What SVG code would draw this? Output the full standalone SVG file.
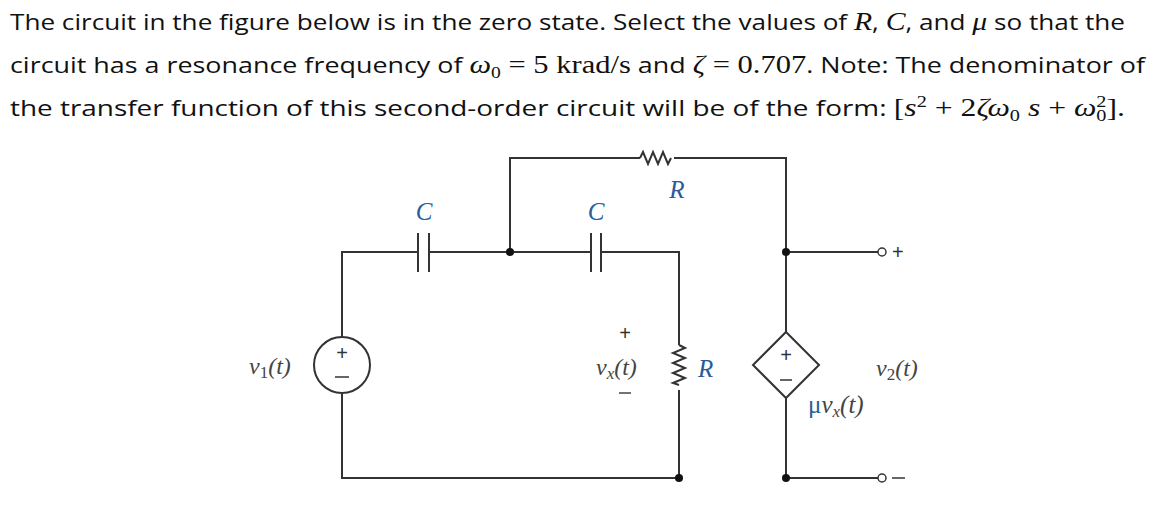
<svg xmlns="http://www.w3.org/2000/svg" width="1166" height="530" viewBox="0 0 1166 530">
<style>
.t{font-family:"Open Sans","Liberation Sans",sans-serif;font-size:22px;fill:#111}
.m{font-family:"Liberation Serif",serif;font-style:italic;font-size:25px}
.mr{font-family:"Liberation Serif",serif;font-size:25px}
.s{font-family:"Liberation Serif",serif;font-size:16px}
.w{stroke:#333;stroke-width:2;fill:none}
.lb{font-family:"Liberation Serif",serif;font-style:italic;font-size:25px;fill:#2a5c9a}
.lk{font-family:"Liberation Serif",serif;font-style:italic;font-size:24px;fill:#444}
.pm{font-family:"Liberation Sans",sans-serif;font-size:20px;fill:#333}
</style>
<rect width="1166" height="530" fill="#fff"/>
<g id="text">
<text class="t" x="10" y="30" textLength="1115" lengthAdjust="spacingAndGlyphs">The circuit in the figure below is in the zero state. Select the values of <tspan class="m">R</tspan>, <tspan class="m">C</tspan>, and <tspan class="m">μ</tspan> so that the</text>
<text class="t" x="10" y="73" textLength="1135" lengthAdjust="spacingAndGlyphs">circuit has a resonance frequency of <tspan class="m">ω</tspan><tspan class="s" dy="5">0</tspan><tspan dy="-5" class="mr"> = 5 krad/s</tspan> and <tspan class="m">ζ</tspan><tspan class="mr"> = 0.707</tspan>. Note: The denominator of</text>
<text class="t" x="10" y="116" textLength="1115" lengthAdjust="spacingAndGlyphs">the transfer function of this second-order circuit will be of the form: <tspan class="mr">[</tspan><tspan class="m">s</tspan><tspan class="s" dy="-9">2</tspan><tspan class="mr" dy="9">  + 2</tspan><tspan class="m">ζω</tspan><tspan class="s" dy="5">0</tspan><tspan class="m" dy="-5"> s</tspan><tspan class="mr"> + </tspan><tspan class="m">ω</tspan><tspan class="s" dy="-9">2</tspan><tspan class="s" dx="-8" dy="14">0</tspan><tspan class="mr" dy="-5">].</tspan></text>
</g>
<g id="connectors">
<path class="w" d="M342,337 V252 H418 M429,252 H591 M601,252 H679 V345 M679,390 V478 H342 V393"/>
<path class="w" d="M510,252 V158 H640 M674,158 H786 V332 M786,398 V478 M786,252 H878 M786,478 H878"/>
<line class="w" x1="418" y1="233" x2="418" y2="272"/>
<line class="w" x1="429" y1="233" x2="429" y2="272"/>
<line class="w" x1="591" y1="233" x2="591" y2="272"/>
<line class="w" x1="601" y1="233" x2="601" y2="272"/>
<circle cx="510" cy="252" r="4" fill="#111"/>
<circle cx="679" cy="478" r="4" fill="#111"/>
<circle cx="786" cy="252" r="4" fill="#111"/>
<circle cx="786" cy="478" r="4" fill="#111"/>
</g>
<g id="source1">
<circle class="w" cx="342" cy="365" r="28"/>
<text class="pm" x="342" y="360" text-anchor="middle">+</text>
<line x1="335" y1="377" x2="349" y2="377" stroke="#333" stroke-width="1.5"/>
<text class="lk" x="249" y="374">v<tspan style="font-size:17px;font-style:normal" dy="4">1</tspan><tspan dy="-4">(t)</tspan></text>
</g>
<g id="C1"><text class="lb" x="424" y="220" text-anchor="middle">C</text></g>
<g id="C2"><text class="lb" x="596" y="220" text-anchor="middle">C</text></g>
<g id="Rtop">
<path class="w" d="M640,158 l3,-6 l5,12 l5,-12 l5,12 l5,-12 l5,12 l3,-6"/>
<text class="lb" x="677" y="198" text-anchor="middle">R</text>
</g>
<g id="Rright">
<path class="w" d="M679,345 l6,3 l-12,5 l12,5 l-12,5 l12,5 l-12,5 l12,5 l-12,5 l6,2"/>
<text class="lb" x="698" y="377">R</text>
<text class="pm" x="625" y="340" text-anchor="middle">+</text>
<text class="lk" x="596" y="375">v<tspan style="font-size:17px" dy="4">x</tspan><tspan dy="-4">(t)</tspan></text>
<line x1="619" y1="393" x2="631" y2="393" stroke="#444" stroke-width="1.5"/>
</g>
<g id="dep">
<path class="w" d="M786,332 L819,365 L786,398 L753,365 Z"/>
<text class="pm" x="786" y="362" text-anchor="middle">+</text>
<line x1="780" y1="380" x2="792" y2="380" stroke="#333" stroke-width="1.5"/>
<text class="lb" x="808" y="413" style="font-style:normal">μ<tspan style="font-style:italic;fill:#444">v</tspan><tspan style="font-size:17px;font-style:italic;fill:#444" dy="4">x</tspan><tspan style="font-style:italic;fill:#444" dy="-4">(t)</tspan></text>
</g>
<g id="out">
<circle cx="882" cy="252" r="4" fill="#fff" stroke="#333" stroke-width="1.5"/>
<circle cx="882" cy="478" r="4" fill="#fff" stroke="#333" stroke-width="1.5"/>
<text class="pm" x="892" y="259">+</text>
<line x1="892" y1="478" x2="905" y2="478" stroke="#333" stroke-width="1.5"/>
<text class="lk" x="876" y="376">v<tspan style="font-size:17px;font-style:normal" dy="4">2</tspan><tspan dy="-4">(t)</tspan></text>
</g>
</svg>
